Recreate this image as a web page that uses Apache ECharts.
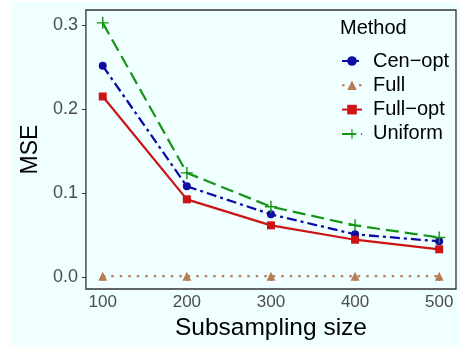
<!DOCTYPE html>
<html>
<head>
<meta charset="utf-8">
<script src="https://cdn.jsdelivr.net/npm/echarts@6/dist/echarts.min.js"></script>
<style>
  html, body { margin: 0; padding: 0; background: #ffffff; }
  #chart { position: absolute; left: 11px; top: 2px; width: 449px; height: 345px; background: #F0FFFF; }
</style>
</head>
<body>
<div id="chart"></div>
<script>
// data
var sizes = [100, 200, 300, 400, 500];
var cenOpt = [0.2515, 0.108, 0.0746, 0.0508, 0.0425];
var full = [0.001, 0.001, 0.001, 0.001, 0.001];
var fullOpt = [0.215, 0.0925, 0.0615, 0.0444, 0.033];
var uniform = [0.3027, 0.124, 0.0837, 0.0615, 0.047];
var yTicks = [0, 0.1, 0.2, 0.3];

function pairs(vals) {
    return sizes.map(function (s, i) { return [s, vals[i]]; });
}

var plus = 'path://M-0.12,-1H0.12V-0.12H1V0.12H0.12V1H-0.12V0.12H-1V-0.12H-0.12Z';
var font = 'Liberation Sans';

var chart = echarts.init(document.getElementById('chart'));

option = {
    animation: false,
    textStyle: { fontFamily: font },
    title: {
        text: 'Method',
        left: 324, top: 11,
        textStyle: { fontFamily: font, fontSize: 20, lineHeight: 20, fontWeight: 'normal', color: '#000' }
    },
    legend: {
        orient: 'vertical',
        left: 325, top: 44,
        itemWidth: 20, itemHeight: 12, itemGap: 4.3,
        textStyle: { fontFamily: font, fontSize: 20, lineHeight: 20, color: '#000', padding: [0, 0, 0, 6] },
        data: ['Cen\u2212opt', 'Full', 'Full\u2212opt', 'Uniform']
    },
    grid: {
        left: 69, right: 4, top: 8, bottom: 58,
        show: true, borderColor: '#333', borderWidth: 1.3, backgroundColor: 'transparent'
    },
    xAxis: {
        type: 'value', min: 80, max: 520,
        name: 'Subsampling size', nameLocation: 'middle', nameGap: 25,
        nameTextStyle: { fontFamily: font, fontSize: 24.5, color: '#000' },
        axisLine: { show: false },
        axisTick: { show: true, length: 4, lineStyle: { color: '#333' }, customValues: sizes },
        axisLabel: { fontSize: 17, color: '#4D4D4D', margin: 5, customValues: sizes },
        splitLine: { show: false }
    },
    yAxis: {
        type: 'value', min: -0.0143, max: 0.318,
        name: 'MSE', nameLocation: 'middle', nameGap: 42,
        nameTextStyle: { fontFamily: font, fontSize: 23, color: '#000' },
        axisLine: { show: false },
        axisTick: { show: true, length: 4, lineStyle: { color: '#333' }, customValues: yTicks },
        axisLabel: {
            fontSize: 18, color: '#4D4D4D', margin: 8, customValues: yTicks,
            formatter: function (v) { return v.toFixed(1); }
        },
        splitLine: { show: false }
    },
    series: [
        {
            name: 'Cen\u2212opt', type: 'line', data: pairs(cenOpt),
            symbol: 'circle', symbolSize: 8,
            itemStyle: { color: '#0D0DA6' },
            lineStyle: { color: '#0D0DA6', width: 2.3, type: [10, 4, 3, 4] }
        },
        {
            name: 'Full', type: 'line', data: pairs(full),
            symbol: 'triangle', symbolSize: 9,
            itemStyle: { color: '#B87D55' },
            lineStyle: { color: '#B87D55', width: 2.2, type: [2.5, 6] }
        },
        {
            name: 'Full\u2212opt', type: 'line', data: pairs(fullOpt),
            symbol: 'rect', symbolSize: 8,
            itemStyle: { color: '#CC1414' },
            lineStyle: { color: '#CC1414', width: 2.2, type: 'solid' }
        },
        {
            name: 'Uniform', type: 'line', data: pairs(uniform),
            symbol: plus, symbolSize: 12,
            itemStyle: { color: '#169416' },
            lineStyle: { color: '#169416', width: 2.2, type: [13, 6] }
        }
    ]
};

chart.setOption(option, true);
</script>
</body>
</html>
